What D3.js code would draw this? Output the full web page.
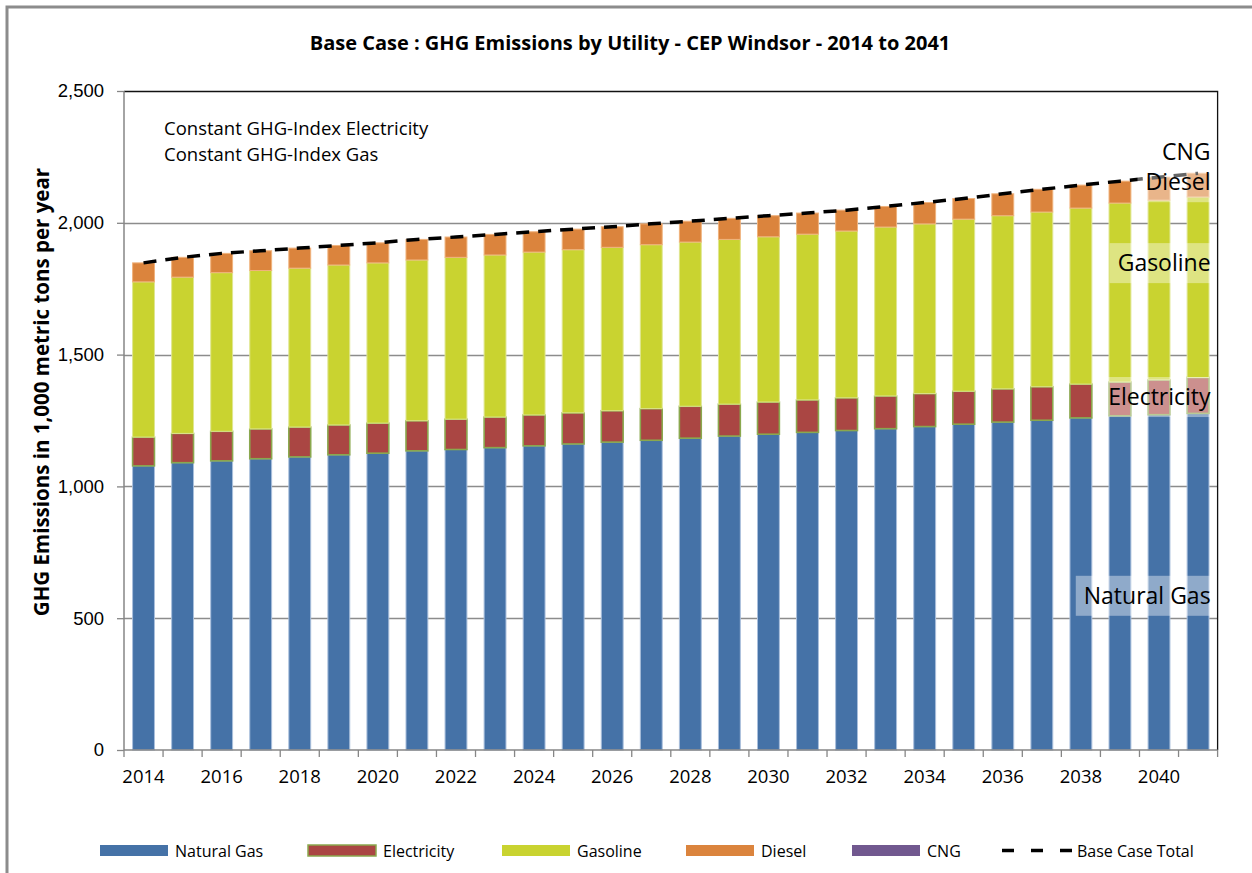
<!DOCTYPE html>
<head>
  <meta charset="utf-8">
  <script src="https://d3js.org/d3.v7.min.js"></script>
  <style>
    body { margin: 0; background: #fff; }
    svg { font-family: "Open Sans", sans-serif; }
    .ytick text, .xtick text { font-size: 18.5px; fill: #000; }
    .legend text { font-size: 16px; fill: #000; }
  </style>
</head>
<body>
<script>
// values (1,000 metric tons per year)
var years = d3.range(2014, 2042).map(String);
var naturalGas = [1078, 1090, 1097, 1105, 1112, 1120, 1126, 1135, 1140, 1147, 1154, 1161, 1168, 1175,
                  1183, 1191, 1198, 1205, 1212, 1219, 1227, 1236, 1244, 1251, 1260, 1268, 1272, 1277];
var electricity = [109, 111, 112, 113, 113, 113, 114, 114, 115, 116, 117, 118, 119, 120,
                   121, 121, 122, 123, 124, 124, 125, 125, 126, 127, 128, 128, 132, 136];
var gasoline = [589, 593, 602, 601, 603, 607, 608, 610, 614, 615, 618, 619, 620, 622,
                623, 625, 627, 629, 633, 641, 644, 653, 657, 663, 668, 679, 682, 685];
var diesel = [72, 75, 73, 75, 76, 74, 76, 78, 77, 78, 77, 78, 78, 79,
              79, 80, 80, 80, 79, 78, 81, 78, 83, 86, 87, 83, 87, 90];
var cng = [0, 0, 0, 0, 0, 0, 0, 0, 0, 0, 0, 0, 0, 0,
           0, 0, 0, 0, 0, 0, 0, 0, 0, 0, 0, 0, 0, 0];
var seriesNames = ["Natural Gas", "Electricity", "Gasoline", "Diesel", "CNG"];
var yTicks = [0, 500, 1000, 1500, 2000, 2500];
var xLabels = years.filter(function(d, i) { return i % 2 === 0; });

var colors = {
  "Natural Gas": "#4572a7",
  "Electricity": "#aa4643",
  "Gasoline": "#c9d330",
  "Diesel": "#db843d",
  "CNG": "#71588f"
};
var strokes = {
  "Natural Gas": "#a9bfdc",
  "Electricity": "#8aa84e",
  "Gasoline": "#dfe690",
  "Diesel": "#f0b27c",
  "CNG": "#a594bf"
};

var seriesData = [naturalGas, electricity, gasoline, diesel, cng];
var rows = years.map(function(y, i) {
  var r = { year: y };
  seriesNames.forEach(function(s, k) { r[s] = seriesData[k][i]; });
  return r;
});
var totals = rows.map(function(r) {
  return { year: r.year, total: d3.sum(seriesNames, function(s) { return r[s]; }) };
});

var W = 1252, H = 873;
var margin = { top: 91, right: 34.4, bottom: 123, left: 124 };

var svg = d3.select("body").append("svg")
    .attr("width", W)
    .attr("height", H);

// outer frame (only top and left edges fall inside the picture)
svg.append("rect")
    .attr("x", 7).attr("y", 7)
    .attr("width", W + 20).attr("height", H + 20)
    .attr("fill", "none")
    .attr("stroke", "#8c8c8c")
    .attr("stroke-width", 3);

var x = d3.scaleBand()
    .domain(years)
    .range([margin.left, W - margin.right])
    .paddingInner(0.44)
    .paddingOuter(0.22);

var y = d3.scaleLinear()
    .domain([0, 2500])
    .range([H - margin.bottom, margin.top]);

// gridlines
svg.append("g")
  .selectAll("line")
  .data(yTicks.slice(1, -1))
  .enter().append("line")
    .attr("x1", margin.left).attr("x2", W - margin.right)
    .attr("y1", function(d) { return Math.round(y(d)) + 0.5; })
    .attr("y2", function(d) { return Math.round(y(d)) + 0.5; })
    .attr("stroke", "#8c8c8c")
    .attr("stroke-width", 1.3);

// plot area border top / right
svg.append("path")
    .attr("d", "M" + margin.left + "," + (y(2500) + 0.5) + "H" + (W - margin.right) + "V" + y(0))
    .attr("fill", "none")
    .attr("stroke", "#111")
    .attr("stroke-width", 1.3);

// stacked bars
var stack = d3.stack().keys(seriesNames);
var layers = stack(rows);

svg.append("g")
  .selectAll("g")
  .data(layers)
  .enter().append("g")
    .attr("fill", function(d) { return colors[d.key]; })
    .attr("stroke", function(d) { return strokes[d.key]; })
    .attr("stroke-width", function(d) { return d.key === "Electricity" ? 1.6 : 1; })
  .selectAll("rect")
  .data(function(d) { return d.filter(function(p) { return p[1] - p[0] > 0; }); })
  .enter().append("rect")
    .attr("x", function(d) { return x(d.data.year); })
    .attr("width", x.bandwidth())
    .attr("y", function(d) { return y(d[1]); })
    .attr("height", function(d) { return y(d[0]) - y(d[1]); });

// axes
var yAxis = svg.append("g")
    .attr("class", "ytick")
    .attr("transform", "translate(" + margin.left + ",0)")
    .call(d3.axisLeft(y).tickValues(yTicks).tickFormat(d3.format(",")).tickSize(7).tickPadding(13));
yAxis.select(".domain").remove();
yAxis.selectAll("line").attr("stroke", "#868686").attr("stroke-width", 1.3);
yAxis.append("line")
    .attr("x1", 0).attr("x2", 0)
    .attr("y1", y(0)).attr("y2", y(2500))
    .attr("stroke", "#868686").attr("stroke-width", 1.5);

var xAxis = svg.append("g")
    .attr("class", "xtick")
    .attr("transform", "translate(0," + y(0) + ")");
xAxis.append("line")
    .attr("x1", margin.left).attr("x2", W - margin.right)
    .attr("stroke", "#868686").attr("stroke-width", 1.5);
var step = x.step();
xAxis.selectAll(".tk")
  .data(years.concat(["end"]))
  .enter().append("line")
    .attr("class", "tk")
    .attr("x1", function(d, i) { return margin.left + i * step; })
    .attr("x2", function(d, i) { return margin.left + i * step; })
    .attr("y1", 0).attr("y2", 7)
    .attr("stroke", "#868686").attr("stroke-width", 1.3);
xAxis.selectAll("text")
  .data(xLabels)
  .enter().append("text")
    .attr("x", function(d) { return x(d) + x.bandwidth() / 2; })
    .attr("y", 33)
    .attr("text-anchor", "middle")
    .text(function(d) { return d; });

// total line
var line = d3.line()
    .x(function(d) { return x(d.year) + x.bandwidth() / 2; })
    .y(function(d) { return y(d.total); });

svg.append("path")
    .datum(totals)
    .attr("d", line)
    .attr("fill", "none")
    .attr("stroke", "#000")
    .attr("stroke-width", 3.5)
    .attr("stroke-dasharray", "13,9");

// series labels at the right end
var labelPos = [
  { name: "CNG", v: 2268 },
  { name: "Diesel", v: 2154 },
  { name: "Gasoline", v: 1847 },
  { name: "Electricity", v: 1339 },
  { name: "Natural Gas", v: 585 }
];
var lab = svg.append("g").attr("font-size", 23);
labelPos.forEach(function(p) {
  var t = lab.append("text")
      .attr("x", W - margin.right - 7)
      .attr("y", y(p.v))
      .attr("dy", "0.35em")
      .attr("text-anchor", "end")
      .text(p.name);
  var b = t.node().getBBox();
  lab.insert("rect", "text")
      .attr("x", b.x - 8)
      .attr("y", y(p.v) - 20)
      .attr("width", b.width + 9)
      .attr("height", 40)
      .attr("fill", "#fff")
      .attr("opacity", 0.4);
});

// title and notes
svg.append("text")
    .attr("x", 630).attr("y", 50)
    .attr("text-anchor", "middle")
    .attr("font-weight", "bold")
    .attr("font-size", 20)
    .text("Base Case : GHG Emissions by Utility - CEP Windsor - 2014 to 2041");

svg.append("text")
    .attr("x", 164).attr("y", 135)
    .attr("font-size", 18.5)
    .text("Constant GHG-Index Electricity");
svg.append("text")
    .attr("x", 164).attr("y", 161)
    .attr("font-size", 18.5)
    .text("Constant GHG-Index Gas");

svg.append("text")
    .attr("transform", "translate(49,392) rotate(-90)")
    .attr("text-anchor", "middle")
    .attr("font-weight", "bold")
    .attr("font-size", 20.5)
    .text("GHG Emissions in 1,000 metric tons per year");

// legend
var legendItems = [
  { name: "Natural Gas", x: 100 },
  { name: "Electricity", x: 308 },
  { name: "Gasoline", x: 502 },
  { name: "Diesel", x: 686 },
  { name: "CNG", x: 852 },
  { name: "Base Case Total", x: 1002 }
];
var leg = svg.append("g").attr("class", "legend");
legendItems.forEach(function(it) {
  if (colors[it.name]) {
    leg.append("rect")
        .attr("x", it.x).attr("y", 845)
        .attr("width", 68).attr("height", 11)
        .attr("fill", colors[it.name])
        .attr("stroke", it.name === "Electricity" ? strokes[it.name] : "none")
        .attr("stroke-width", 1.5);
  } else {
    leg.append("line")
        .attr("x1", it.x).attr("x2", it.x + 70)
        .attr("y1", 850.5).attr("y2", 850.5)
        .attr("stroke", "#000")
        .attr("stroke-width", 3.5)
        .attr("stroke-dasharray", "12,17");
  }
  leg.append("text")
      .attr("x", it.x + 75).attr("y", 851)
      .attr("dy", "0.35em")
      .text(it.name);
});
</script>
</body>
